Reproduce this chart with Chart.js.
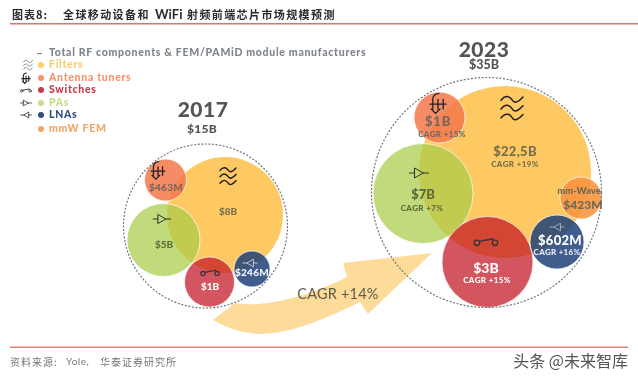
<!DOCTYPE html>
<html>
<head>
<meta charset="utf-8">
<title>全球移动设备和 WiFi 射频前端芯片市场规模预测</title>
<script src="https://cdn.jsdelivr.net/npm/chart.js@4"></script>
<style>
  html, body { margin: 0; padding: 0; background: #fff; }
  /* the source picture is a soft screenshot */
  #chart { display: block; filter: blur(0.45px); }
</style>
</head>
<body>
<canvas id="chart" width="638" height="378"></canvas>
<script>
const totalLegend = "Total RF components & FEM/PAMiD module manufacturers";
const segments = ["Filters", "Antenna tuners", "Switches", "PAs", "LNAs", "mmW FEM"];
const segmentColors = ["#fdcb6c", "#f4946a", "#c93a4c", "#c8dd88", "#2f4d80", "#f5a563"];

const years = ["2017", "2023"];
const yearTotals = ["$15B", "$35B"];

// bubble x / y / radius, same order as segments
const x2017 = [225, 165.5, 209.5, 163.5, 252];
const y2017 = [215, 180, 282, 240, 269];
const r2017 = [58, 21, 25, 36.5, 18];
const x2023 = [505, 439.5, 487.5, 423, 557, 581];
const y2023 = [172, 117.5, 262, 193.5, 242, 198];
const r2023 = [86, 25.5, 45.5, 50, 27, 21];

// dashed outer circles, one per year
const totalX = [205.5, 486.5];
const totalY = [226, 192.5];
const totalR = [82, 115];

const fills = [
  "#fec862",
  "rgba(243,120,75,0.85)",
  "rgba(192,19,33,0.72)",
  "rgba(169,204,74,0.72)",
  "rgba(30,65,120,0.85)",
  "rgba(248,150,65,0.9)"
];

function makeDataset(i) {
  const points = [{ x: x2017[i], y: y2017[i], r: r2017[i] }, { x: x2023[i], y: y2023[i], r: r2023[i] }];
  // mmW FEM only exists in 2023
  const data = i === 5 ? [points[1]] : points;
  return {
    label: segments[i],
    data: data,
    backgroundColor: fills[i],
    borderColor: "rgba(255,255,255,0.7)",
    borderWidth: i === 0 ? 0 : 1,
    order: i === 0 ? 6 : (i === 1 ? 5 : (i === 3 ? 4 : (i === 2 ? 3 : (i === 5 ? 2 : 1)))),
    clip: false
  };
}

const datasets = segments.map((s, i) => makeDataset(i));
datasets.push({
  label: "Total",
  data: totalX.map((x, i) => ({ x: x, y: totalY[i], r: totalR[i] })),
  backgroundColor: "rgba(0,0,0,0)",
  borderColor: "#72767a",
  borderWidth: 1.2,
  order: 0,
  clip: false,
  dashed: true
});

function text(ctx, str, x, y, font, color, align, spacing) {
  ctx.font = font;
  ctx.fillStyle = color;
  ctx.textAlign = align || "left";
  ctx.textBaseline = "middle";
  ctx.letterSpacing = (spacing || 0) + "px";
  ctx.fillText(str, x, y);
  ctx.letterSpacing = "0px";
}

function strokeIcon(ctx, color, width, fn) {
  ctx.save();
  ctx.strokeStyle = color;
  ctx.fillStyle = color;
  ctx.lineWidth = width;
  ctx.lineCap = "round";
  ctx.setLineDash([]);
  ctx.beginPath();
  fn();
  ctx.stroke();
  ctx.restore();
}

function filterIcon(ctx, x, y, s, color, width) {
  strokeIcon(ctx, color, width, () => {
    [-0.8, 0, 0.8].forEach(o => {
      const yy = y + o * s;
      ctx.moveTo(x - s, yy + 0.1 * s);
      ctx.bezierCurveTo(x - 0.5 * s, yy - 0.55 * s, x - 0.1 * s, yy - 0.1 * s, x, yy + 0.05 * s);
      ctx.bezierCurveTo(x + 0.2 * s, yy + 0.45 * s, x + 0.6 * s, yy + 0.25 * s, x + s, yy - 0.2 * s);
    });
  });
}

function paIcon(ctx, x, y, s, color, width) {
  // triangle pointing right with leads
  strokeIcon(ctx, color, width, () => {
    ctx.moveTo(x - 1.6 * s, y);
    ctx.lineTo(x - 0.7 * s, y);
    ctx.moveTo(x - 0.7 * s, y - 0.8 * s);
    ctx.lineTo(x + 0.7 * s, y);
    ctx.lineTo(x - 0.7 * s, y + 0.8 * s);
    ctx.closePath();
    ctx.moveTo(x + 0.7 * s, y);
    ctx.lineTo(x + 1.6 * s, y);
  });
}

function lnaIcon(ctx, x, y, s, color, width) {
  strokeIcon(ctx, color, width, () => {
    ctx.moveTo(x + 1.6 * s, y);
    ctx.lineTo(x + 0.7 * s, y);
    ctx.moveTo(x + 0.7 * s, y - 0.8 * s);
    ctx.lineTo(x - 0.7 * s, y);
    ctx.lineTo(x + 0.7 * s, y + 0.8 * s);
    ctx.closePath();
    ctx.moveTo(x - 0.7 * s, y);
    ctx.lineTo(x - 1.6 * s, y);
  });
}

function switchIcon(ctx, x, y, s, color, width) {
  strokeIcon(ctx, color, width, () => {
    ctx.arc(x - s, y + 0.2 * s, 0.3 * s, 0, Math.PI * 2);
    ctx.moveTo(x + 1.3 * s, y + 0.2 * s);
    ctx.arc(x + s, y + 0.2 * s, 0.3 * s, 0, Math.PI * 2);
    ctx.moveTo(x - 0.75 * s, y + 0.05 * s);
    ctx.lineTo(x + 0.8 * s, y - 0.25 * s);
  });
}

function antennaIcon(ctx, x, y, s, color, width) {
  strokeIcon(ctx, color, width, () => {
    // crossbar and three prongs, curl on top, point at the bottom
    ctx.moveTo(x - s, y + 0.15 * s);
    ctx.lineTo(x + s, y + 0.15 * s);
    [-0.65, 0, 0.65].forEach(o => {
      ctx.moveTo(x + o * s, y - 0.45 * s);
      ctx.lineTo(x + o * s, y + 0.75 * s);
    });
    ctx.moveTo(x - 0.65 * s, y - 0.45 * s);
    ctx.quadraticCurveTo(x - 0.65 * s, y - 1.1 * s, x + 0.1 * s, y - 1.2 * s);
    ctx.moveTo(x - 0.85 * s, y + 0.75 * s);
    ctx.lineTo(x - 0.3 * s, y + 1.3 * s);
    ctx.lineTo(x + 0.25 * s, y + 0.75 * s);
  });
}

// the big CAGR arrow, sits under the bubbles
const arrowPlugin = {
  id: "arrow",
  beforeDatasetsDraw(chart) {
    const ctx = chart.ctx;
    ctx.save();
    ctx.fillStyle = "#fddc9a";
    ctx.beginPath();
    ctx.moveTo(213, 320);
    ctx.lineTo(235, 303);
    ctx.bezierCurveTo(262, 308, 305, 298, 347, 277);
    ctx.lineTo(343, 263);
    ctx.lineTo(432, 253);
    ctx.lineTo(368, 314);
    ctx.lineTo(360, 302);
    ctx.bezierCurveTo(330, 316, 295, 334, 257, 334);
    ctx.quadraticCurveTo(233, 332, 213, 320);
    ctx.closePath();
    ctx.fill();
    ctx.restore();
  }
};

const dashPlugin = {
  id: "dash",
  beforeDatasetDraw(chart, args) {
    if (chart.data.datasets[args.index].dashed) {
      chart.ctx.save();
      chart.ctx.setLineDash([2, 1.6]);
    }
  },
  afterDatasetDraw(chart, args) {
    if (chart.data.datasets[args.index].dashed) chart.ctx.restore();
  }
};

const sans = '"Lato", "Open Sans", sans-serif';
const cjk = '"Noto Sans CJK SC", sans-serif';

const labelPlugin = {
  id: "labels",
  afterDatasetsDraw(chart) {
    const ctx = chart.ctx;
    ctx.save();

    // header
    const titleFont = "bold 11px " + cjk;
    text(ctx, "图表8:", 12, 15, titleFont, "#2b2b2b", "left", 1);
    text(ctx, "全球移动设备和", 63, 15, titleFont, "#2b2b2b", "left", 1.4);
    text(ctx, "WiFi", 155, 15, "bold 13px " + sans, "#2b2b2b");
    text(ctx, "射频前端芯片市场规模预测", 187, 15, titleFont, "#2b2b2b", "left", 1.4);
    ctx.fillStyle = "#d9776f";
    ctx.fillRect(10, 23, 628, 1.5);

    // legend
    const legendFont = "900 10.5px " + sans;
    ctx.fillStyle = "#8a8f96";
    ctx.fillRect(37, 53, 5, 1.2);
    text(ctx, totalLegend, 49, 53, legendFont, "#7f848c", "left", 0.7);
    const rowY = [65, 78, 90, 103, 115, 129];
    segments.forEach((name, i) => {
      ctx.fillStyle = segmentColors[i];
      ctx.beginPath();
      ctx.arc(41, rowY[i], 3, 0, Math.PI * 2);
      ctx.fill();
      text(ctx, name, 49, rowY[i], legendFont, segmentColors[i], "left", 0.7);
    });
    filterIcon(ctx, 28, 65, 4.5, "#6a6a6a", 0.8);
    antennaIcon(ctx, 26, 78, 4.2, "#222", 1.1);
    switchIcon(ctx, 26, 90, 4.2, "#444", 1);
    paIcon(ctx, 26, 103, 3.4, "#444", 0.9);
    lnaIcon(ctx, 26, 115, 3.4, "#444", 0.9);

    // year headings
    text(ctx, years[0], 203, 110, "900 21px " + sans, "#555", "center", 0.5);
    text(ctx, yearTotals[0], 202, 129, "900 12px " + sans, "#555", "center", 0.3);
    text(ctx, years[1], 484, 50, "900 21px " + sans, "#555", "center", 0.5);
    text(ctx, yearTotals[1], 484, 65, "900 12.5px " + sans, "#555", "center");

    // 2017 bubbles
    const v = "900 10px " + sans;
    text(ctx, "$8B", 228, 212, v, "#77724f", "center");
    text(ctx, "$463M", 166, 188, v, "#7d6458", "center", 0.3);
    text(ctx, "$5B", 164, 245, v, "#5f7038", "center");
    text(ctx, "$1B", 210, 287, v, "#fff", "center");
    text(ctx, "$246M", 252, 273, "900 10px " + sans, "#f4f6fa", "center", 0.3);
    filterIcon(ctx, 228, 176, 8, "#222", 1.5);
    antennaIcon(ctx, 158, 170, 7, "#222", 1.3);
    paIcon(ctx, 162, 219, 5.5, "#333", 1);
    switchIcon(ctx, 210, 272, 7, "#333", 1.2);
    lnaIcon(ctx, 250, 263, 4.5, "#c8d2e2", 0.9);

    // 2023 bubbles
    const big = "900 13px " + sans;
    const small = "900 8px " + sans;
    text(ctx, "$1B", 438, 122, big, "#77655a", "center", 0.8);
    text(ctx, "CAGR +15%", 442, 134, small, "#6c6a6a", "center", 0.4);
    text(ctx, "$22,5B", 515, 152, big, "#74704f", "center", 0.3);
    text(ctx, "CAGR +19%", 515, 164, small, "#74704f", "center", 0.4);
    text(ctx, "mm-Wave", 579, 191, "900 9.5px " + sans, "#6e6a58", "center");
    text(ctx, "$423M", 583, 205, "900 12px " + sans, "#6e6a58", "center");
    text(ctx, "$7B", 423, 195, big, "#5a6b36", "center");
    text(ctx, "CAGR +7%", 422, 208, small, "#5a6b36", "center", 0.4);
    text(ctx, "$3B", 486, 268, "900 14px " + sans, "#fff", "center");
    text(ctx, "CAGR +15%", 487, 280, small, "#fff", "center", 0.4);
    text(ctx, "$602M", 560, 241, "900 13px " + sans, "#fff", "center", 0.3);
    text(ctx, "CAGR +16%", 557, 252, small, "#e8ecf4", "center", 0.3);
    filterIcon(ctx, 512, 108, 11, "#222", 1.5);
    antennaIcon(ctx, 438, 103, 8, "#222", 1.3);
    paIcon(ctx, 419, 173, 6, "#333", 1);
    switchIcon(ctx, 486, 241, 9, "#333", 1.3);
    lnaIcon(ctx, 557, 227, 4.5, "#9fb0c8", 0.9);

    // arrow label
    text(ctx, "CAGR +14%", 338, 294, "14.5px " + sans, "#5e5a4a", "center", 0.2);

    // footer
    ctx.fillStyle = "#e0837b";
    ctx.fillRect(10, 346.5, 618, 1.5);
    text(ctx, "资料来源:", 10, 362, "10px " + cjk, "#777", "left", 1);
    text(ctx, "Yole,", 66, 362, "10px " + sans, "#777", "left", 0.5);
    text(ctx, "华泰证券研究所", 100, 362, "10px " + cjk, "#777", "left", 1);
    text(ctx, "头条 @未来智库", 628, 361, "16px " + cjk, "#555", "right");

    ctx.restore();
  }
};

new Chart(document.getElementById("chart"), {
  type: "bubble",
  data: { datasets: datasets },
  options: {
    responsive: false,
    animation: false,
    events: [],
    layout: { autoPadding: false, padding: 0 },
    scales: {
      x: { type: "linear", min: 0, max: 638, display: false },
      y: { type: "linear", min: 0, max: 378, reverse: true, display: false }
    },
    plugins: { legend: { display: false }, tooltip: { enabled: false } }
  },
  plugins: [arrowPlugin, dashPlugin, labelPlugin]
});
</script>
</body>
</html>
